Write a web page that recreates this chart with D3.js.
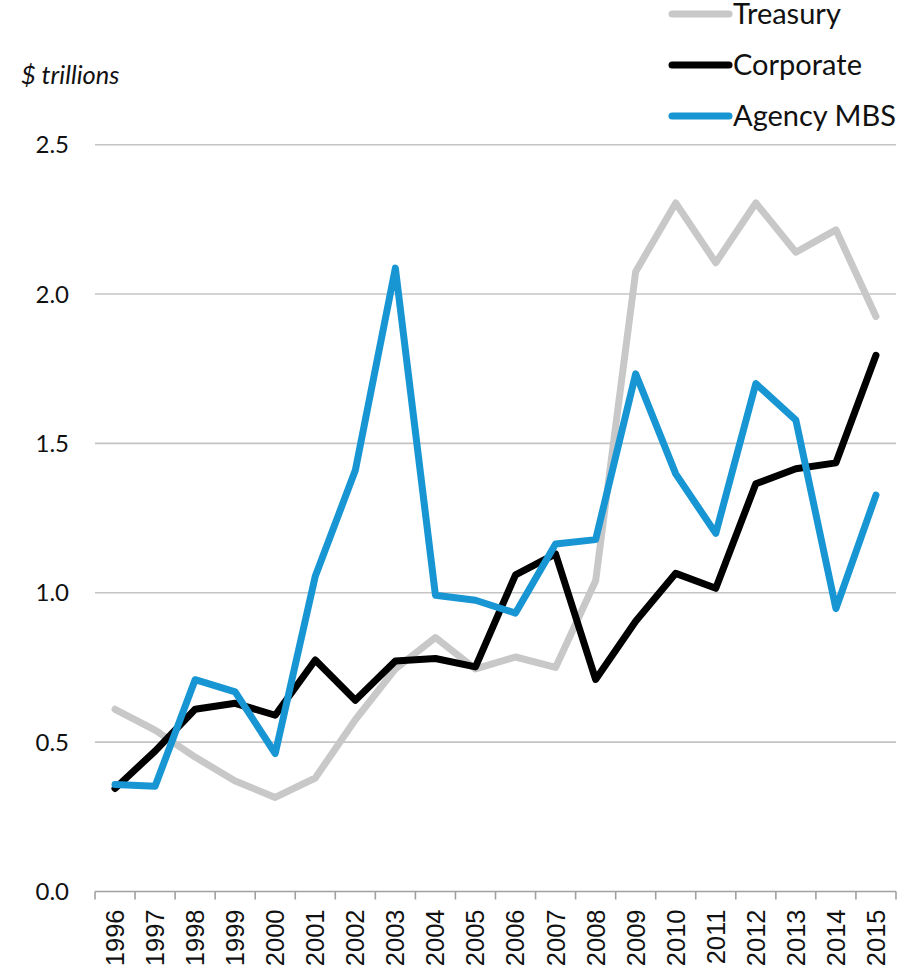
<!DOCTYPE html>
<html>
<head>
<meta charset="utf-8">
<script src="https://cdn.jsdelivr.net/npm/d3@7"></script>
<style>
  html, body { margin: 0; padding: 0; background: #fff; }
  svg { display: block; }
</style>
</head>
<body>
<svg id="chart" width="912" height="973"></svg>
<script>
const years = ["1996","1997","1998","1999","2000","2001","2002","2003","2004","2005",
               "2006","2007","2008","2009","2010","2011","2012","2013","2014","2015"];
const treasury  = [0.61,0.54,0.45,0.37,0.315,0.38,0.575,0.745,0.85,0.745,0.785,0.75,1.04,2.075,2.305,2.105,2.305,2.14,2.215,1.925];
const corporate = [0.345,0.47,0.61,0.63,0.59,0.775,0.64,0.772,0.78,0.752,1.06,1.13,0.71,0.905,1.065,1.015,1.365,1.415,1.435,1.795];
const agencyMBS = [0.358,0.352,0.709,0.668,0.462,1.055,1.41,2.087,0.992,0.975,0.932,1.163,1.178,1.733,1.398,1.199,1.7,1.578,0.947,1.327];
const yTicks = [0, 0.5, 1.0, 1.5, 2.0, 2.5];
const seriesNames = ["Treasury", "Corporate", "Agency MBS"];
const seriesColors = ["#c8c8c8", "#000000", "#1796d3"];
const seriesData = [treasury, corporate, agencyMBS];

const svg = d3.select("#chart");
const mLeft = 95, mRight = 896, mTop = 144.7, mBottom = 891.5;

const x = d3.scaleBand().domain(years).range([mLeft, mRight]);
const y = d3.scaleLinear().domain([0, 2.5]).range([mBottom, mTop]);

// gridlines
svg.append("g").selectAll("line").data(yTicks.filter(d => d > 0)).join("line")
  .attr("x1", mLeft).attr("x2", mRight)
  .attr("y1", d => y(d)).attr("y2", d => y(d))
  .attr("stroke", "#c4c4c4").attr("stroke-width", 1.6);

// y labels
svg.append("g").selectAll("text").data(yTicks).join("text")
  .attr("x", 69).attr("y", d => y(d)).attr("dy", "0.36em")
  .attr("text-anchor", "end")
  .style("font-family", "Lato").style("font-size", "24px").attr("fill", "#111")
  .text(d => d3.format(".1f")(d));

// x axis
const xAxis = d3.axisBottom(x).tickSize(0).tickFormat(d => d);
const gx = svg.append("g").attr("transform", `translate(0,${mBottom})`).call(xAxis);
gx.select(".domain").attr("stroke", "#a0a0a0").attr("stroke-width", 1.6).attr("d", `M${mLeft},0H${mRight}`);
gx.selectAll(".tick text")
  .attr("transform", "rotate(-90)")
  .attr("x", -18).attr("y", 0).attr("dy", "0.35em")
  .attr("text-anchor", "end")
  .style("font-family", "'Liberation Sans', Arial, sans-serif").style("font-size", "25.5px").attr("fill", "#111");
// boundary ticks
const bounds = years.map(d => x(d)).concat([mRight]);
svg.append("g").selectAll("line").data(bounds).join("line")
  .attr("x1", d => d).attr("x2", d => d)
  .attr("y1", mBottom).attr("y2", mBottom + 8)
  .attr("stroke", "#a0a0a0").attr("stroke-width", 1.6);

// lines
const line = d3.line().x((d, i) => x(years[i]) + x.bandwidth() / 2).y(d => y(d));
seriesData.forEach((s, k) => {
  svg.append("path").datum(s)
    .attr("fill", "none").attr("stroke", seriesColors[k])
    .attr("stroke-width", 7).attr("stroke-linejoin", "round").attr("stroke-linecap", "round")
    .attr("d", line);
});

// y label
svg.append("text").attr("x", 21).attr("y", 84)
  .style("font-family", "Lato").style("font-style", "italic").style("font-size", "25.5px").attr("fill", "#111")
  .text("$ trillions");

// legend
const legendY = [14, 65, 116];
seriesNames.forEach((n, k) => {
  svg.append("line").attr("x1", 672).attr("x2", 729).attr("y1", legendY[k]).attr("y2", legendY[k])
    .attr("stroke", seriesColors[k]).attr("stroke-width", 7).attr("stroke-linecap", "round");
  svg.append("text").attr("x", 733).attr("y", legendY[k]).attr("dy", "0.36em")
    .style("font-family", "Lato").style("font-size", "29px").attr("fill", "#111")
    .text(n);
});
</script>
</body>
</html>
